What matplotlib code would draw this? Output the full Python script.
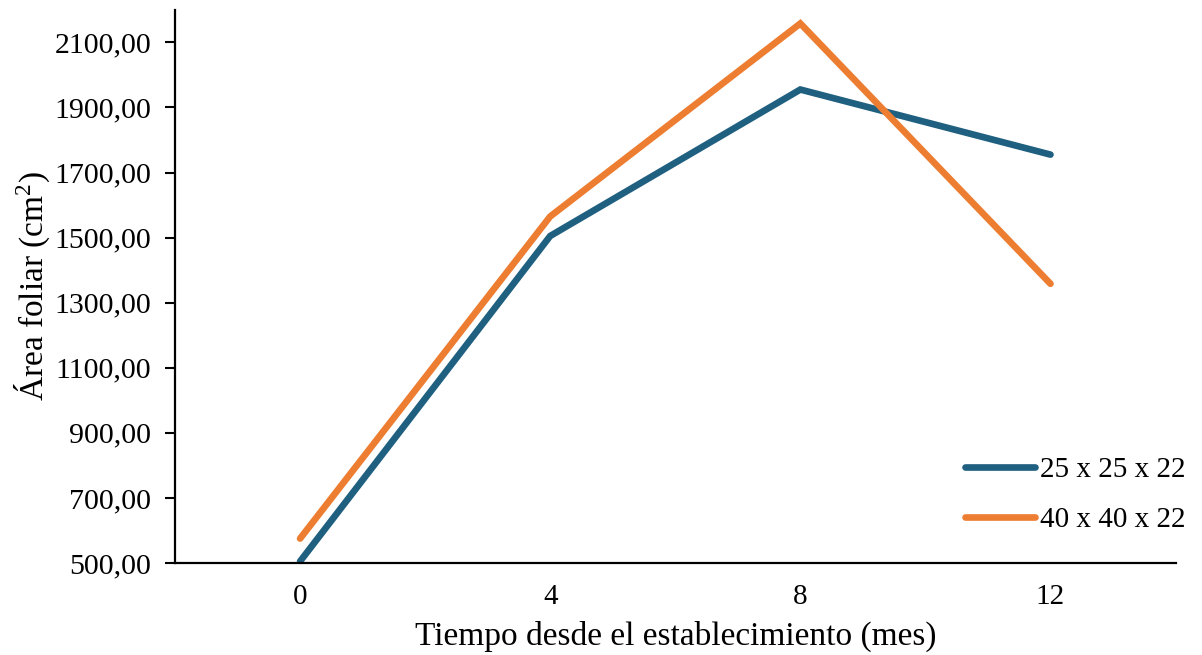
import matplotlib
matplotlib.use("Agg")
import matplotlib.pyplot as plt
from matplotlib.ticker import FuncFormatter

# data
meses = ["0", "4", "8", "12"]
bolsa_25 = [505, 1505, 1955, 1755]
bolsa_40 = [575, 1565, 2158, 1358]
etiquetas = ["25 x 25 x 22", "40 x 40 x 22"]
colores = ["#1F5F80", "#ED7D31"]
yticks = [500, 700, 900, 1100, 1300, 1500, 1700, 1900, 2100]

plt.rcParams["font.family"] = ["Liberation Serif", "DejaVu Serif"]
plt.rcParams["mathtext.fontset"] = "custom"
plt.rcParams["mathtext.rm"] = "Liberation Serif"

fig = plt.figure(figsize=(12.02, 6.55), dpi=100)
ax = fig.add_axes([0.1456, 0.1405, 0.978 - 0.1456, 0.985 - 0.1405])

x = list(range(len(meses)))
for serie, lab, col in zip([bolsa_25, bolsa_40], etiquetas, colores):
    ax.plot(x, serie, color=col, linewidth=4.8, label=lab,
            solid_capstyle="round", solid_joinstyle="miter")

ax.set_xlim(-0.5, 3.5)
ax.set_ylim(500, 2200)
ax.set_xticks(x)
ax.set_xticklabels(meses)
ax.set_yticks(yticks)
ax.yaxis.set_major_formatter(FuncFormatter(lambda v, p: f"{v:.2f}".replace(".", ",")))

ax.tick_params(axis="x", length=0, labelsize=21, pad=15)
ax.tick_params(axis="y", length=7, width=1.5, labelsize=21.5, pad=10, direction="out")

for s in ["top", "right"]:
    ax.spines[s].set_visible(False)
for s in ["left", "bottom"]:
    ax.spines[s].set_linewidth(1.6)

ax.set_xlabel("Tiempo desde el establecimiento (mes)", fontsize=24, labelpad=8)
ax.set_ylabel(r"Área foliar (cm$\mathregular{^2}$)", fontsize=24, labelpad=2)

ax.legend(loc="center left", bbox_to_anchor=(0.790, 0.123), frameon=False,
          fontsize=21, handlelength=2.4, handletextpad=0.17, labelspacing=0.8,
          borderpad=0, borderaxespad=0)

fig.savefig("out.png", dpi=100)
